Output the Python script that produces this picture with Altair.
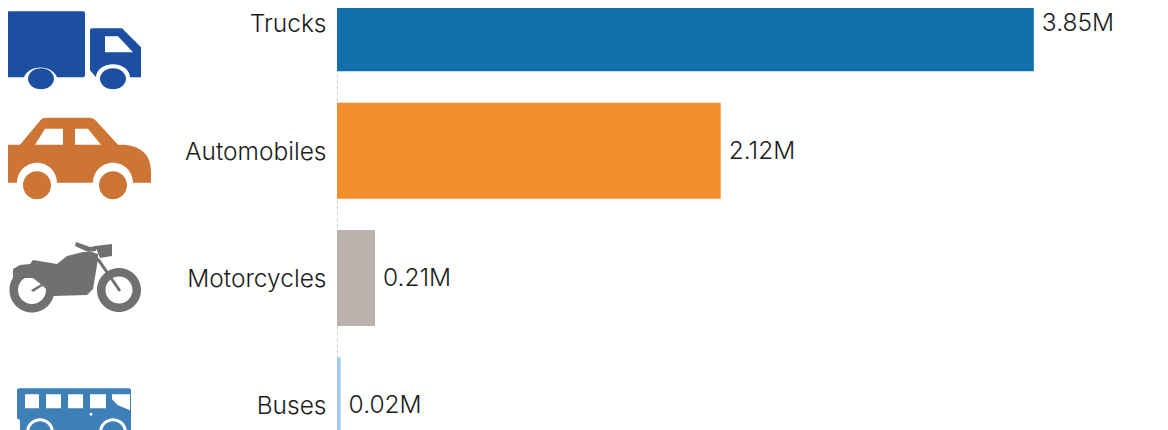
import re
import altair as alt
import pandas as pd

categories = ["Trucks", "Automobiles", "Motorcycles", "Buses"]
values = [3.85, 2.12, 0.21, 0.02]
value_labels = ["3.85M", "2.12M", "0.21M", "0.02M"]
bar_colors = ["#1170aa", "#f28e2b", "#bab0ac", "#a0cbe8"]
icon_colors = {"Trucks": "#1d4fa1", "Automobiles": "#cc7535", "Motorcycles": "#707070", "Buses": "#3f7fb8"}

FONT = "Inter"
FONT_SIZE = 24.5
TEXT = "#1c1c1c"


def ring(cx, cy, r, sweep=1, ry=None):
    ry = ry or r
    return f"M{cx-r} {cy} A{r} {ry} 0 1 {sweep} {cx+r} {cy} A{r} {ry} 0 1 {sweep} {cx-r} {cy} Z "


def centred(path, ox, oy):
    """Move a glyph drawn in its own frame so that (ox, oy) is its anchor."""
    out = []
    for cmd, args in re.findall(r"([MLHVAQZ])([^MLHVAQZ]*)", path):
        n = [float(a) for a in args.split()]
        if cmd == "H":
            n = [n[0] - ox]
        elif cmd == "V":
            n = [n[0] - oy]
        elif cmd == "A":
            n = n[:5] + [n[5] - ox, n[6] - oy]
        else:
            n = [v - (ox if i % 2 == 0 else oy) for i, v in enumerate(n)]
        out.append(cmd + " ".join(f"{v:g}" for v in n))
    return " ".join(out)


truck = (
    "M9 11 H83 Q85 11 85 13 V75 Q85 77 83 77 H57 A17 13 0 0 0 24 77 H9 Q7 77 7 75 V13 Q7 11 9 11 Z "
    "M92 28 H122 L141 47 V77 H130 A17 13 0 0 0 96 77 L90 70 V30 Q90 28 92 28 Z "
    "M105 36 V52 H133 L118 36 Z "
    + ring(41, 78.5, 13, 1, 10.5) + ring(113, 78.5, 13, 1, 10.5)
)
car = (
    "M20 145 L40 121 Q42 118 46 118 H90 Q93 118 96 121 L118 145 H125 Q151 148 151 172 V183 H133 "
    "A20 20 0 0 0 93 183 H57 A20 20 0 0 0 17 183 H4 Q0 183 0 179 V149 Q0 145 4 145 Z "
    "M35 145 H63 V129 H45 Z M75 129 V145 H101 L88 129 Z "
    + ring(37, 185.5, 14) + ring(113, 185.5, 14)
)
moto = (
    "M13 268 L20 264 L30 263 L33 259 L57 263 L67 255 L83 251 L92 251 L98 253 L98 258 "
    "L93 288 L87 294 L53 295 L43 285 L33 277 L13 277 Z "
    "M95 245 L112 243 V255 L100 257 Z M76 241 L90 246 L96 245 V250 L88 251 L75 245 Z "
    "M96 258 L99 257 L121 289 L119 291 Z "
    "M31 289 L43 282 L44 284 L33 291 Z "
    + ring(32, 289, 22.5) + ring(32, 289, 14, 0)
    + ring(119, 289, 22) + ring(119, 289, 13.5, 0)
)
bus = (
    "M19 388 H129 Q131 388 131 390 V440 H20 V420 L17 418 V390 Q17 388 19 388 Z "
    "M25 394 V408 H39 V394 Z M46 394 V408 H61 V394 Z M68 394 V408 H83 V394 Z M90 394 V408 H106 V394 Z "
    "M112 394 V399 L118 405 L130 410 V394 Z "
    + ring(91, 414, 1.5, 0)
    + ring(40, 432, 14, 0) + ring(40, 432, 11)
    + ring(113, 432, 14, 0) + ring(113, 432, 11)
)
glyphs = {
    "Trucks": centred(truck, 74, 23),
    "Automobiles": centred(car, 74, 151),
    "Motorcycles": centred(moto, 74, 277),
    "Buses": centred(bus, 74, 405),
}

df = pd.DataFrame({"category": categories, "value": values, "label": value_labels})

y = alt.Y(
    "category:N",
    sort=categories,
    title=None,
    scale=alt.Scale(domain=categories, range=[-48.37, 460.97], paddingInner=0.246, paddingOuter=0.123),
    axis=alt.Axis(
        ticks=False,
        grid=False,
        labelFont=FONT,
        labelFontSize=FONT_SIZE,
        labelFontWeight=300,
        labelColor=TEXT,
        labelPadding=11,
        labelOffset=2,
        domainColor="#cccccc",
        domainDash=[3, 3],
        domainWidth=1,
    ),
)
x = alt.X("value:Q", title=None, axis=None, scale=alt.Scale(domain=[0, 4.42], nice=False))

base = alt.Chart(df)
bars = base.mark_bar().encode(
    x=x,
    y=y,
    color=alt.Color("category:N", scale=alt.Scale(domain=categories, range=bar_colors), legend=None),
)
labels = base.mark_text(
    align="left", baseline="middle", dx=8, dy=1, font=FONT, fontSize=FONT_SIZE, fontWeight=300, color=TEXT
).encode(x=x, y=y, text="label:N")
icons = [
    base.transform_filter(alt.datum.category == c)
    .mark_point(shape=glyphs[c], size=4, filled=True, fill=icon_colors[c], opacity=1, strokeWidth=0)
    .encode(x=alt.value(-263), y=y)
    for c in categories
]

chart = (
    alt.layer(bars, labels, *icons)
    .properties(
        width=800,
        height=422,
        autosize=alt.AutoSizeParams(type="none"),
        padding={"left": 329, "top": 0, "right": 0, "bottom": 0},
    )
    .configure_view(stroke=None)
)
chart.save("out.html", embed_options={"renderer": "svg", "actions": False})
